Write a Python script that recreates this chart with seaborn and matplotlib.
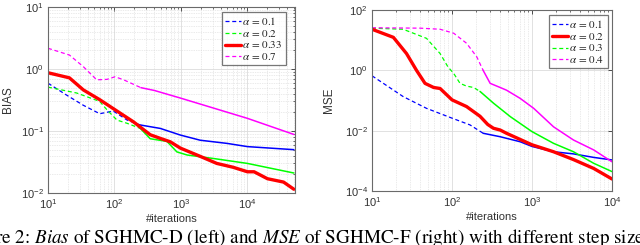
import numpy as np
import pandas as pd
import matplotlib
matplotlib.use("Agg")
import matplotlib.pyplot as plt
from matplotlib.lines import Line2D
from matplotlib.ticker import LogLocator, LogFormatterSciNotation, FixedLocator, NullFormatter, NullLocator
import seaborn as sns

# ---------------- data ----------------
# Left panel: BIAS of SGHMC-D
bias_labels = [r"$\alpha\,=\,0.1$", r"$\alpha\,=\,0.2$", r"$\alpha\,=\,0.33$", r"$\alpha\,=\,0.7$"]

bias_a01_x = [10, 19, 34, 60, 96, 155, 245, 490, 980, 1950, 5000, 10000, 50000]
bias_a01_y = [0.59, 0.38, 0.26, 0.19, 0.21, 0.15, 0.125, 0.11, 0.086, 0.071, 0.063, 0.056, 0.050]

bias_a02_x = [10, 27, 60, 77, 109, 155, 245, 345, 615, 870, 1240, 3100, 10000, 50000]
bias_a02_y = [0.51, 0.41, 0.30, 0.22, 0.15, 0.133, 0.11, 0.075, 0.068, 0.046, 0.041, 0.036, 0.030, 0.021]

bias_a033_x = [10, 21, 34, 60, 102, 194, 345, 490, 690, 980, 1950, 3460, 6100, 10000,
               12600, 20000, 35000, 50000]
bias_a033_y = [0.87, 0.72, 0.46, 0.32, 0.22, 0.14, 0.087, 0.076, 0.067, 0.053, 0.039, 0.030, 0.026,
               0.022, 0.022, 0.017, 0.015, 0.0115]

bias_a07_x = [10, 21, 34, 54, 77, 102, 137, 250, 400, 980, 10000, 50000]
bias_a07_y = [2.16, 1.68, 1.09, 0.67, 0.68, 0.75, 0.67, 0.50, 0.45, 0.34, 0.16, 0.088]

# Right panel: MSE of SGHMC-F
mse_labels = [r"$\alpha\,=\,0.1$", r"$\alpha\,=\,0.2$", r"$\alpha\,=\,0.3$", r"$\alpha\,=\,0.4$"]

mse_a01_x = [10, 24.5, 48, 100, 168, 245, 400, 710, 1000, 1860, 3300, 5900, 10000]
mse_a01_y = [0.66, 0.135, 0.055, 0.026, 0.0155, 0.0082, 0.0063, 0.0043, 0.0030, 0.0020, 0.0017, 0.0013, 0.00107]

mse_a02_x = [10, 18.5, 27, 36, 46, 59, 71, 100, 152, 224, 280, 330, 400, 480, 1000, 1860, 3300,
             5900, 10000]
mse_a02_y = [23, 12.4, 3.6, 1.0, 0.37, 0.27, 0.25, 0.105, 0.063, 0.030, 0.016, 0.012, 0.0105,
             0.0082, 0.0034, 0.0020, 0.0011, 0.00056, 0.00025]

mse_a03_x = [10, 24.5, 48, 71, 89, 105, 126, 152, 186, 224, 331, 537, 1000, 1860, 3300, 5900, 10000]
mse_a03_y = [25, 23, 11.5, 3.6, 1.3, 0.79, 0.37, 0.30, 0.27, 0.20, 0.081, 0.029, 0.0093,
             0.0038, 0.0020, 0.00083, 0.00044]

mse_a04_x = [10, 40, 71, 105, 152, 204, 245, 300, 400, 480, 710, 1050, 1860, 3300, 5900, 10000]
mse_a04_y = [25.8, 25, 23, 17, 7.9, 2.8, 1.0, 0.37, 0.27, 0.22, 0.118, 0.055, 0.0134, 0.0049,
             0.0023, 0.00093]

# ---------------- styling ----------------
sns.set_theme(style="white")
plt.rcParams["font.family"] = ["Liberation Sans", "DejaVu Sans"]
plt.rcParams["mathtext.fontset"] = "stix"

BLUE, GREEN, RED, MAG = (0, 0, 1), (0, 1, 0), (1, 0, 0), (1, 0, 1)
SPINE = "#6a6a6a"
DASH = (0, (3.2, 2.2))

fig = plt.figure(figsize=(6.4, 2.45), dpi=100)
axL = fig.add_axes([48 / 640, 1 - 193 / 245, (295 - 48) / 640, (193 - 7) / 245])
axR = fig.add_axes([372 / 640, 1 - 191 / 245, (612 - 372) / 640, (191 - 10) / 245])


def draw(ax, xs, ys, color, dashed, switch=None, lw_dash=0.9, lw_solid=1.1):
    df = pd.DataFrame({"x": xs, "y": ys})
    if not dashed:
        sns.lineplot(data=df, x="x", y="y", ax=ax, color=color, lw=2.4, estimator=None, sort=False)
        return
    k = int(np.searchsorted(df.x.values, switch, side="right"))
    d1 = df.iloc[:k]
    d2 = df.iloc[max(k - 1, 0):]
    sns.lineplot(data=d1, x="x", y="y", ax=ax, color=color, lw=lw_dash, ls=DASH,
                 estimator=None, sort=False)
    if len(d2) > 1:
        sns.lineplot(data=d2, x="x", y="y", ax=ax, color=color, lw=lw_solid, estimator=None, sort=False)


# Left panel
draw(axL, bias_a01_x, bias_a01_y, BLUE, True, 245)
draw(axL, bias_a02_x, bias_a02_y, GREEN, True, 245)
draw(axL, bias_a07_x, bias_a07_y, MAG, True, 250)
draw(axL, bias_a033_x, bias_a033_y, RED, False)

# Right panel
draw(axR, mse_a01_x, mse_a01_y, BLUE, True, 245)
draw(axR, mse_a03_x, mse_a03_y, GREEN, True, 224)
draw(axR, mse_a04_x, mse_a04_y, MAG, True, 245)
draw(axR, mse_a02_x, mse_a02_y, RED, False)

for ax in (axL, axR):
    ax.set_xscale("log")
    ax.set_yscale("log")
    ax.xaxis.set_major_locator(LogLocator(base=10, numticks=10))
    ax.xaxis.set_minor_locator(LogLocator(base=10, subs=np.arange(2, 10), numticks=50))
    ax.xaxis.set_minor_formatter(NullFormatter())
    ax.xaxis.set_major_formatter(LogFormatterSciNotation())
    ax.tick_params(which="both", direction="in", top=True, right=True, colors="#333333",
                   labelsize=8, pad=3)
    ax.tick_params(which="major", length=3, width=0.6)
    ax.tick_params(which="minor", length=1.6, width=0.5)
    for s in ax.spines.values():
        s.set_color(SPINE)
        s.set_linewidth(0.8)
    ax.set_xlabel("#iterations", fontsize=8, color="#333333", labelpad=2)
    ax.grid(True, which="major", color="#dcdcdc", lw=0.6, ls="-")
    ax.set_axisbelow(True)

axL.set_xlim(10, 5.2e4)
axL.set_ylim(1e-2, 1e1)
axL.yaxis.set_major_locator(LogLocator(base=10, numticks=10))
axL.yaxis.set_minor_locator(LogLocator(base=10, subs=np.arange(2, 10), numticks=50))
axL.yaxis.set_minor_formatter(NullFormatter())
axL.yaxis.set_major_formatter(LogFormatterSciNotation())
axL.grid(True, which="minor", color="#d6d6d6", lw=0.5, ls=(0, (1, 1.5)))
axL.set_ylabel("BIAS", fontsize=8.5, color="#333333", labelpad=5)

axR.set_xlim(10, 1e4)
axR.set_ylim(1e-4, 1e2)
axR.yaxis.set_major_locator(FixedLocator([1e-4, 1e-2, 1e0, 1e2]))
axR.yaxis.set_minor_locator(NullLocator())
axR.yaxis.set_major_formatter(LogFormatterSciNotation())
axR.grid(True, which="minor", axis="x", color="#d6d6d6", lw=0.5, ls=(0, (1, 1.5)))
axR.set_ylabel("MSE", fontsize=8.5, color="#333333", labelpad=7)


# legends
def make_legend(ax, labels, styles, loc_bbox):
    handles = [Line2D([], [], color=c, lw=lw, ls=ls) for c, lw, ls in styles]
    leg = ax.legend(handles, labels, loc="upper right", bbox_to_anchor=loc_bbox,
                    fontsize=8, frameon=True, fancybox=False, handlelength=1.45,
                    handletextpad=0.1, labelspacing=0.05, borderpad=0.3, borderaxespad=0)
    leg.get_frame().set_edgecolor("#555555")
    leg.get_frame().set_linewidth(0.9)
    for t in leg.get_texts():
        t.set_color("#222222")
    return leg


make_legend(axL, bias_labels,
            [(BLUE, 0.9, DASH), (GREEN, 0.9, DASH), (RED, 2.4, "-"), (MAG, 0.9, DASH)],
            (1 - 9 / 247, 1 - 5 / 186))
make_legend(axR, mse_labels,
            [(BLUE, 0.9, DASH), (RED, 2.4, "-"), (GREEN, 0.9, DASH), (MAG, 0.9, DASH)],
            (1 - 4 / 240, 1 - 5 / 181))

# caption (clipped at both figure edges, as in the reference)
prefix = "Figur"
caption = (r"Figure 2: $\mathit{Bias}$ of SGHMC-D (left) and $\mathit{MSE}$ of SGHMC-F (right) "
           r"with different step sizes.")
cap_kw = dict(fontsize=13.8, family="STIXGeneral", color="black", va="baseline", ha="left")
renderer = fig.canvas.get_renderer()
probe = fig.text(0, 0, prefix, **cap_kw)
w_prefix = probe.get_window_extent(renderer).width
probe.remove()
fig.text(-(w_prefix - 1) / fig.bbox.width, 0.010, caption, **cap_kw)

fig.savefig("out.png", dpi=100)
